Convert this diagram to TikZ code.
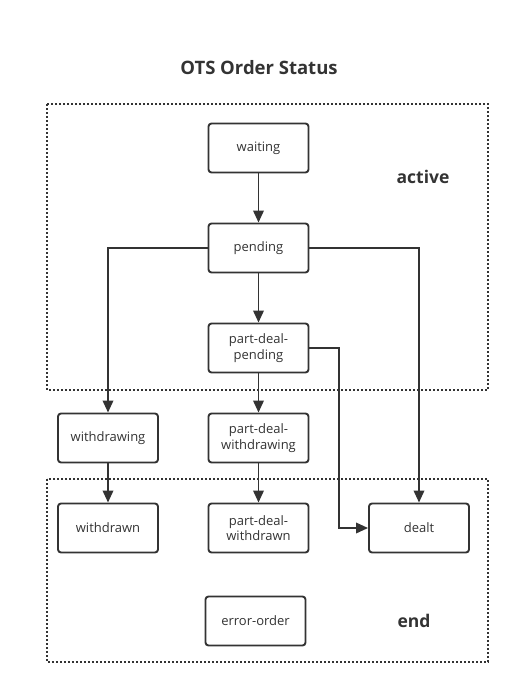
\documentclass[tikz,border=0pt]{standalone}
\usepackage{fontspec}
\setmainfont{Open Sans}
\usetikzlibrary{arrows.meta}
\definecolor{ink}{HTML}{333333}
\tikzset{
  statebox/.style={draw=ink, line width=1.9pt, rounded corners=3pt, minimum width=100pt, minimum height=49pt, align=center, font=\fontsize{13}{15.5}\selectfont, text=ink, inner sep=2pt},
  flow/.style={draw=ink, line width=1.9pt, -{Triangle[length=12pt,width=10.5pt]}},
  region/.style={draw=ink, line width=1.8pt, dash pattern=on 1.8pt off 2.2pt},
  zonelabel/.style={font=\bfseries\fontsize{17.5}{20}\selectfont, text=ink}
}
\begin{document}
\begin{tikzpicture}[x=1pt,y=-1pt]
\useasboundingbox (0,0) rectangle (520,694);
\node[font=\bfseries\fontsize{18.5}{22}\selectfont, text=ink] (title) at (259,68) {OTS Order Status};
\draw[region] (47,104) rectangle (488,390);
\draw[region] (47,479) rectangle (488,662);
\node[zonelabel] (activelbl) at (423,177) {active};
\node[zonelabel] (endlbl) at (414,621) {end};

\node[statebox] (waiting) at (258.5,148) {waiting};
\node[statebox] (pending) at (258.5,248) {pending};
\node[statebox] (pdp) at (258.5,348) {part-deal-\\pending};
\node[statebox] (withdrawing) at (108,438) {withdrawing};
\node[statebox] (pdw) at (258.5,438) {part-deal-\\withdrawing};
\node[statebox] (withdrawn) at (108,528) {withdrawn};
\node[statebox] (pdwn) at (258.5,528) {part-deal-\\withdrawn};
\node[statebox] (dealt) at (419,528) {dealt};
\node[statebox] (error) at (255.5,621) {error-order};

\draw[flow] (waiting) -- (pending);
\draw[flow] (pending) -- (pdp);
\draw[flow] (pending.west) -| (withdrawing.north);
\draw[flow] (pending.east) -| (dealt.north);
\draw[flow] (pdp) -- (pdw);
\draw[flow] (pdp.east) -- (339,348) |- (dealt.west);
\draw[flow] (withdrawing) -- (withdrawn);
\draw[flow] (pdw) -- (pdwn);
\end{tikzpicture}
\end{document}
